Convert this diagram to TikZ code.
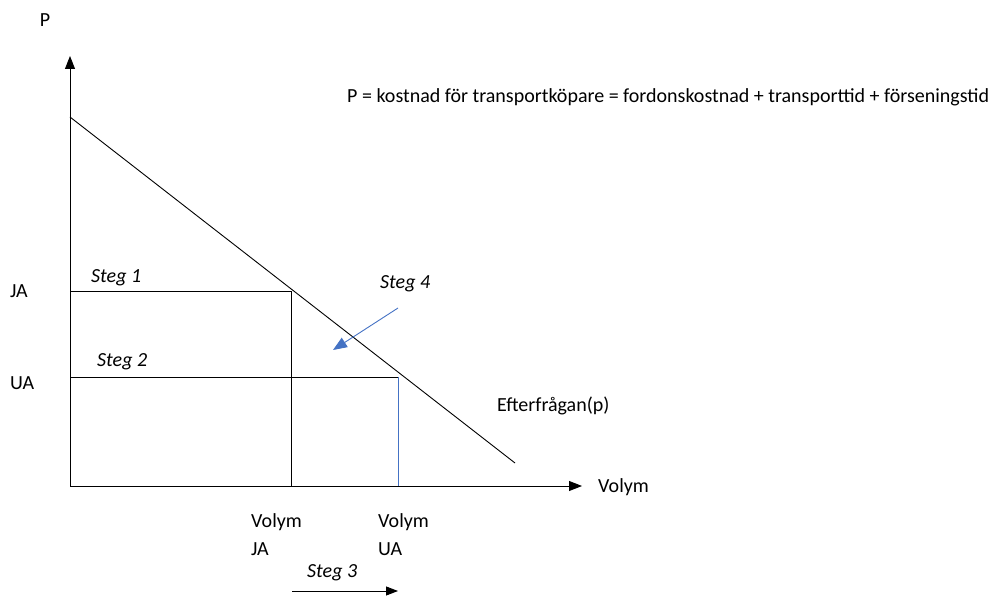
\documentclass[tikz,border=0pt]{standalone}
\usepackage{fontspec}
\setmainfont{Carlito}
\usetikzlibrary{arrows.meta}
\definecolor{axblue}{HTML}{4472C4}
\begin{document}
\begin{tikzpicture}[x=1pt,y=-1pt,
  lbl/.style={inner sep=0pt,font=\fontsize{20}{24}\selectfont},
  steglbl/.style={lbl,font=\fontsize{20}{24}\selectfont\itshape},
  axis/.style={line width=0.9pt,-{Triangle[length=13pt,width=10pt]}},
  thin/.style={line width=0.9pt}]
\useasboundingbox (0,0) rectangle (1002,596);
% coordinates
\coordinate (O) at (70,486);
\coordinate (Ytop) at (70,56);
\coordinate (Xend) at (582,486);
\coordinate (D1) at (70,117);
\coordinate (D2) at (515,463);
\coordinate (JAl) at (70,291);
\coordinate (JAc) at (291,291);
\coordinate (JAb) at (291,486);
\coordinate (UAl) at (70,377);
\coordinate (UAc) at (398,377);
\coordinate (UAb) at (398,486);
\coordinate (S4a) at (398,308);
\coordinate (S4b) at (333,350);
\coordinate (S3a) at (292,591);
\coordinate (S3b) at (398,591);
% axes
\draw[axis] (O) -- (Ytop);
\draw[axis] (O) -- (Xend);
% demand
\draw[thin] (D1) -- (D2);
% JA / UA lines
\draw[thin] (JAl) -- (JAc) -- (JAb);
\draw[thin] (UAl) -- (UAc);
\draw[line width=0.9pt,axblue] (UAc) -- (UAb);
% arrows
\draw[line width=0.9pt,axblue,-{Triangle[length=14pt,width=11pt]}] (S4a) -- (S4b);
\draw[thin,-{Triangle[length=12pt,width=9pt]}] (S3a) -- (S3b);
% labels
\node[lbl] (P) at (45,20) {P};
\node[lbl,anchor=west] (title) at (347,97) {P = kostnad för transportköpare = fordonskostnad + transporttid + förseningstid};
\node[lbl,anchor=west] (JA) at (10,291) {JA};
\node[lbl,anchor=west] (UA) at (10,383) {UA};
\node[steglbl,anchor=west] (s1) at (91,278) {Steg 1};
\node[steglbl,anchor=west] (s2) at (97,362) {Steg 2};
\node[steglbl,anchor=west] (s4) at (380,284) {Steg 4};
\node[steglbl,anchor=west] (s3) at (307,573) {Steg 3};
\node[lbl,anchor=west] (eft) at (497,406) {Efterfrågan(p)};
\node[lbl,anchor=west] (vol) at (598,487) {Volym};
\node[lbl,anchor=west] (vja1) at (251,522) {Volym};
\node[lbl,anchor=west] (vja2) at (251,549) {JA};
\node[lbl,anchor=west] (vua1) at (378,522) {Volym};
\node[lbl,anchor=west] (vua2) at (378,549) {UA};
\end{tikzpicture}
\end{document}
